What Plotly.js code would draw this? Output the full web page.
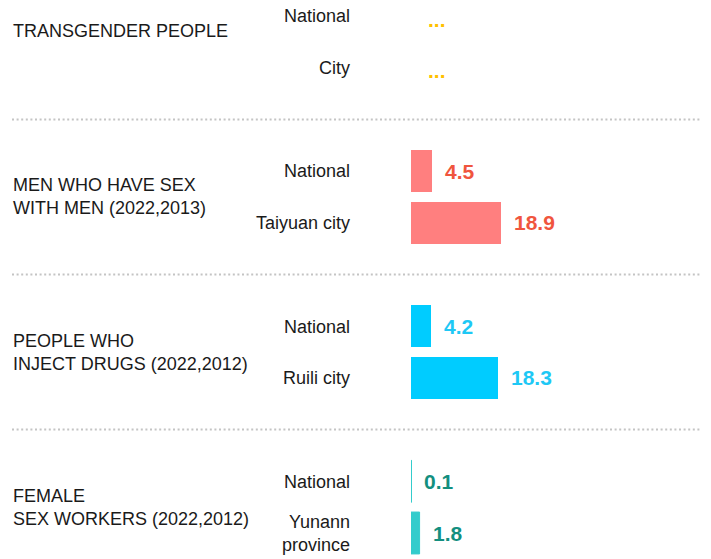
<!DOCTYPE html>
<html>
<head>
<meta charset="utf-8">
<script src="https://cdn.plot.ly/plotly-3.0.1.min.js"></script>
<style>html,body{margin:0;padding:0;background:#fff;}#chart{width:711px;height:559px;}</style>
</head>
<body>
<div id="chart"></div>
<script>
// ---- data ----
const groupLabels = [
  "TRANSGENDER PEOPLE",
  "MEN WHO HAVE SEX<br>WITH MEN (2022,2013)",
  "PEOPLE WHO<br>INJECT DRUGS (2022,2012)",
  "FEMALE<br>SEX WORKERS (2022,2012)"
];
const rowLabels = [
  ["National", "City"],
  ["National", "Taiyuan city"],
  ["National", "Ruili city"],
  ["National", "Yunann<br>province"]
];
const values = [
  [null, null],
  [4.5, 18.9],
  [4.2, 18.3],
  [0.1, 1.8]
];
const missingText = "...";

// ---- styles ----
const barColors = ["#ffc000", "#ff7f7f", "#00ccff", "#33cccc"];
const textColors = ["#ffc000", "#f0553e", "#1ec8f5", "#138f7f"];
const FONT = "Arial, 'Liberation Sans', sans-serif";

// build categories (rows + separators)
const cats = [], tickvals = [], ticktext = [], sepIds = [];
groupLabels.forEach((g, gi) => {
  rowLabels[gi].forEach((r, ri) => {
    const id = "g" + gi + "r" + ri;
    cats.push(id); tickvals.push(id); ticktext.push(r);
  });
  if (gi < groupLabels.length - 1) { const s = "sep" + gi; cats.push(s); sepIds.push(s); }
});

const traces = groupLabels.map((g, gi) => ({
  type: "bar",
  orientation: "h",
  x: values[gi],
  y: rowLabels[gi].map((r, ri) => "g" + gi + "r" + ri),
  marker: { color: barColors[gi], line: { color: barColors[gi], width: gi === 3 ? 1 : 0 } },
  width: 0.81,
  hoverinfo: "skip",
  showlegend: false
}));

const plotL = 411, plotW = 286, W = 711;
const px2paper = p => (p - plotL) / plotW;

const annotations = [];
groupLabels.forEach((g, gi) => {
  // value labels
  values[gi].forEach((v, ri) => {
    const id = "g" + gi + "r" + ri;
    const missing = (v === null);
    annotations.push({
      xref: "x", yref: "y",
      x: missing ? 0 : v, y: id,
      text: missing ? missingText : "<b>" + v + "</b>",
      showarrow: false, xanchor: "left", yanchor: "middle",
      xshift: missing ? 15 : 11, yshift: missing ? -3 : 0,
      font: { family: FONT, size: 21, color: textColors[gi], weight: 700 }
    });
  });
  // group labels
  annotations.push({
    xref: "paper", yref: "y",
    x: px2paper(11), y: cats.indexOf("g" + gi + "r0") + 0.5,
    text: g, showarrow: false, xanchor: "left", yanchor: "middle", align: "left",
    yshift: gi === 0 ? 11 : 0,
    font: { family: FONT, size: 18, color: "#1a1a1a" }
  });
});

const shapes = sepIds.map(s => ({
  type: "line", xref: "paper", yref: "y",
  x0: px2paper(12), x1: px2paper(701),
  y0: cats.indexOf(s), y1: cats.indexOf(s),
  line: { color: "#c4c4c4", width: 2, dash: "2px,2.6px" }
}));

const layout = {
  width: W, height: 559,
  margin: { l: plotL, r: W - plotL - plotW, t: 0, b: 0, pad: 0 },
  paper_bgcolor: "#ffffff", plot_bgcolor: "#ffffff",
  bargap: 0,
  xaxis: { range: [0, 60], visible: false, fixedrange: true },
  yaxis: {
    type: "category", categoryorder: "array", categoryarray: cats,
    range: [10.503, -0.31],
    tickvals: tickvals, ticktext: ticktext,
    showgrid: false, zeroline: false, showline: false, ticks: "",
    ticklabelstandoff: 60,
    tickfont: { family: FONT, size: 18, color: "#1a1a1a" },
    fixedrange: true
  },
  font: { family: FONT },
  annotations: annotations,
  shapes: shapes
};

Plotly.newPlot("chart", traces, layout, { displayModeBar: false, staticPlot: true });
</script>
</body>
</html>
